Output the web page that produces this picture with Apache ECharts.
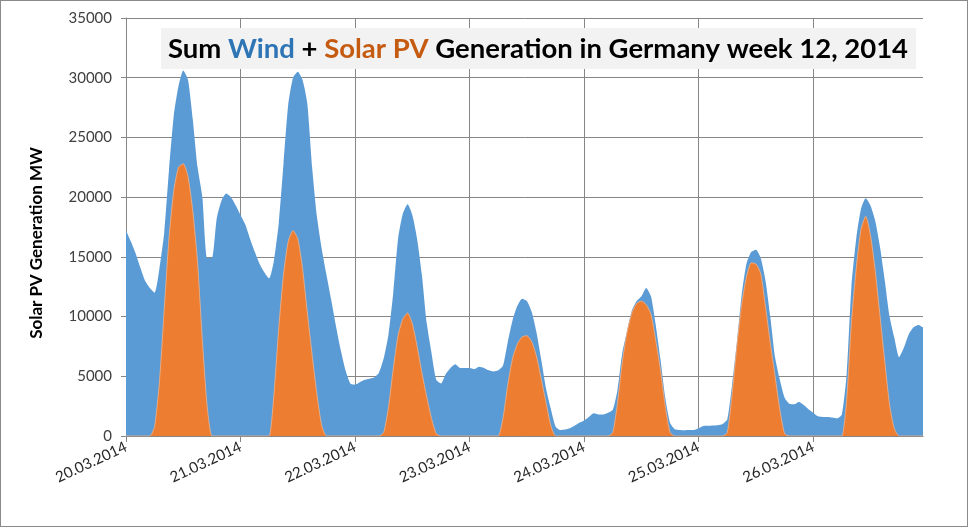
<!DOCTYPE html>
<html>
<head>
<meta charset="utf-8">
<script src="https://cdn.jsdelivr.net/npm/echarts@6/dist/echarts.min.js"></script>
<style>
html,body{margin:0;padding:0;background:#fff;}
#wrap{position:relative;width:968px;height:527px;}
#chart{width:968px;height:527px;}
#frame{position:absolute;left:0;top:0;width:968px;height:527px;box-sizing:border-box;border:1px solid #8a8a8a;pointer-events:none;}
</style>
</head>
<body>
<div id="wrap"><div id="chart"></div><div id="frame"></div></div>
<script>
// Day labels (x-axis ticks every 24 hourly points)
const days = ['20.03.2014','21.03.2014','22.03.2014','23.03.2014','24.03.2014','25.03.2014','26.03.2014'];

// Sum of wind + solar PV generation, MW (hourly)
const totalMW = [
  // 20.03
  17200,16300,15300,14100,13000,12400,12000,14000,17000,22200,26800,29300,30600,29800,26500,22500,20000,14900,14900,18200,19700,20300,20000,19300,
  // 21.03
  18500,17700,16500,15400,14400,13700,13200,14700,17800,22800,27800,30000,30500,29800,27800,22500,18400,15700,13500,11400,9200,7200,5500,4400,
  // 22.03
  4300,4500,4700,4800,4900,5300,6500,8500,12000,16500,18600,19400,18500,16500,13500,9500,7000,4700,4400,5200,5700,6000,5700,5700,
  // 23.03
  5700,5600,5800,5700,5500,5400,5500,5900,7900,9700,10900,11500,11300,10400,8700,6400,4000,2300,800,500,550,650,850,1100,
  // 24.03
  1300,1600,1900,1800,1800,1950,2200,3900,7000,8800,10500,11300,11700,12400,11700,9300,6400,3200,1100,560,500,480,500,500,
  // 25.03
  650,840,850,880,900,1000,1400,4300,7800,11800,14400,15400,15600,14900,13000,10000,6600,4700,3200,2700,2650,2850,2600,2250,
  // 26.03
  1950,1650,1600,1600,1550,1480,1800,5200,12500,16500,19000,19900,19300,18000,15800,13000,10000,8200,6600,7400,8500,9100,9300,9100
];

// Solar PV generation, MW (hourly)
const solarMW = [
  // 20.03
  0,0,0,0,0,0,800,4500,10500,16500,20500,22500,22800,21700,18800,14500,8000,2500,0,0,0,0,0,0,
  // 21.03
  0,0,0,0,0,0,0,3500,9000,13500,16300,17200,16500,14000,10300,6800,3500,900,0,0,0,0,0,0,
  // 22.03
  0,0,0,0,0,0,300,2400,5600,8400,9800,10300,9400,7500,5300,3300,1500,200,0,0,0,0,0,0,
  // 23.03
  0,0,0,0,0,0,0,1500,4300,6500,7700,8300,8400,7900,6700,4800,2800,900,0,0,0,0,0,0,
  // 24.03
  0,0,0,0,0,0,300,2800,6200,8700,10300,11100,11300,11000,10200,8000,5500,2500,300,0,0,0,0,0,
  // 25.03
  0,0,0,0,0,0,300,3500,7500,11000,13300,14500,14400,13600,10800,7800,5000,2200,200,0,0,0,0,0,
  // 26.03
  0,0,0,0,0,0,0,3000,9500,14000,17300,18400,16800,13800,10000,6200,2600,600,0,0,0,0,0,0
];

const yMin = 0, yMax = 35000, yStep = 5000;
const titleParts = ['Sum ', 'Wind', ' + ', 'Solar PV', ' Generation in Germany week 12, 2014'];
const yAxisTitle = 'Solar PV Generation MW';

const categories = [];
days.forEach(d => { for (let h = 0; h < 24; h++) categories.push(d + ' ' + String(h).padStart(2,'0') + ':00'); });
const isDay = i => i % 24 === 0;

const chart = echarts.init(document.getElementById('chart'), null, {renderer:'canvas'});
chart.setOption({
  animation: false,
  backgroundColor: '#ffffff',
  grid: {left: 126, right: 45, top: 18, bottom: 91, containLabel: false},
  xAxis: {
    type: 'category',
    boundaryGap: false,
    data: categories,
    axisLine: {lineStyle: {color: '#868686', width: 1}},
    axisTick: {show: true, interval: isDay, length: 6, lineStyle: {color: '#868686'}},
    axisLabel: {interval: isDay, formatter: v => v.split(' ')[0], rotate: 25, fontSize: 15,
      fontFamily: 'Lato', color: '#262626', margin: 10},
    splitLine: {show: true, interval: isDay, lineStyle: {color: '#868686', width: 1}}
  },
  yAxis: {
    type: 'value', min: yMin, max: yMax, interval: yStep,
    axisLine: {show: true, lineStyle: {color: '#868686'}},
    axisTick: {show: true, length: 5, lineStyle: {color: '#868686'}},
    axisLabel: {fontSize: 15, fontFamily: 'Lato', color: '#404040', margin: 14, formatter: v => String(v)},
    splitLine: {show: true, lineStyle: {color: '#868686', width: 1}}
  },
  series: [
    {name: 'Sum', type: 'line', data: totalMW, symbol: 'none', z: 2, smooth: 0.2,
      lineStyle: {width: 0}, areaStyle: {color: '#5b9bd5', opacity: 1}},
    {name: 'Solar PV', type: 'line', data: solarMW, symbol: 'none', z: 3, smooth: 0.2,
      lineStyle: {width: 0.8, color: '#f3b48a'}, areaStyle: {color: '#ed7d31', opacity: 1}}
  ],
  graphic: [
    {type: 'rect', shape: {x: 161, y: 28, width: 755, height: 41}, style: {fill: '#f2f2f2'}, z: 100},
    {type: 'text', x: 538, y: 49, z: 101, style: {
      text: '{k|' + titleParts[0] + '}{w|' + titleParts[1] + '}{k|' + titleParts[2] + '}{s|' + titleParts[3] + '}{k|' + titleParts[4] + '}',
      align: 'center', verticalAlign: 'middle',
      rich: {
        k: {fill: '#000000', fontSize: 27.5, fontWeight: 'bold', fontFamily: 'Lato'},
        w: {fill: '#2e75b6', fontSize: 27.5, fontWeight: 'bold', fontFamily: 'Lato'},
        s: {fill: '#c55a11', fontSize: 27.5, fontWeight: 'bold', fontFamily: 'Lato'}
      }
    }},
    {type: 'text', x: 37, y: 243, rotation: Math.PI / 2, z: 101, style: {
      text: yAxisTitle, fill: '#000', font: 'bold 17px Lato', align: 'center', verticalAlign: 'middle'
    }}
  ]
});
</script>
</body>
</html>
